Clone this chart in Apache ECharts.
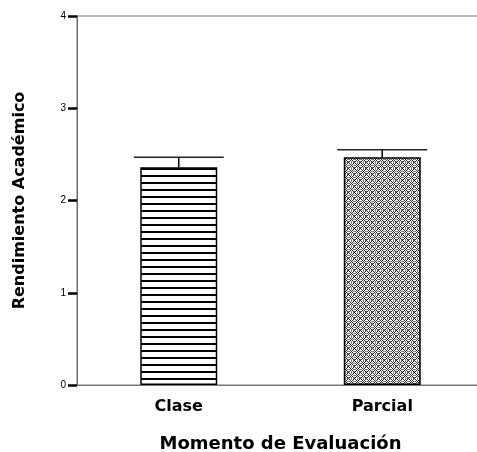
<!DOCTYPE html>
<html>
<head>
<meta charset="utf-8">
<script src="https://cdn.jsdelivr.net/npm/echarts@6/dist/echarts.min.js"></script>
<style>html,body{margin:0;padding:0;background:#fff;overflow:hidden}#c{width:477px;height:452px}</style>
</head>
<body>
<div id="c"></div>
<script>
var categories = ['Clase', 'Parcial'];
var meanValues = [2.36, 2.47];
var errorUpper = [2.47, 2.55];
var yTicks = [0, 1, 2, 3, 4];

function stripePattern() {
  var c = document.createElement('canvas');
  c.width = 8; c.height = 7;
  var g = c.getContext('2d');
  g.fillStyle = '#fff'; g.fillRect(0, 0, 8, 7);
  g.fillStyle = '#000'; g.fillRect(0, 0, 8, 2);
  return c;
}
function crossPattern() {
  var c = document.createElement('canvas');
  c.width = 6; c.height = 6;
  var g = c.getContext('2d');
  g.fillStyle = '#fff'; g.fillRect(0, 0, 6, 6);
  g.fillStyle = '#222';
  var px = [[0,0],[1,1],[2,2],[4,4],[5,5],[5,1],[4,2],[2,4],[1,5],[3,3]];
  px.forEach(function(p){ g.fillRect(p[0], p[1], 1, 1); });
  g.fillStyle = '#777';
  [[3,0],[0,3],[3,1],[1,3],[5,3],[3,5],[0,5],[5,0]].forEach(function(p){ g.fillRect(p[0], p[1], 1, 1); });
  return c;
}
var fills = [
  {image: stripePattern(), repeat: 'repeat'},
  {image: crossPattern(), repeat: 'repeat'}
];

var chart = echarts.init(document.getElementById('c'), null, {renderer: 'canvas'});
chart.setOption({
  animation: false,
  backgroundColor: '#fff',
  grid: {left: 77, top: 16, right: -7, bottom: 67, outerBoundsMode: 'none', show: true, borderColor: '#777', borderWidth: 1, containLabel: false},
  xAxis: {
    type: 'category',
    data: categories,
    name: 'Momento de Evaluación',
    nameLocation: 'middle',
    nameGap: 50,
    nameTextStyle: {fontFamily: 'DejaVu Sans', fontWeight: 'bold', fontSize: 18, color: '#000'},
    axisLine: {lineStyle: {color: '#777', width: 1}},
    axisTick: {alignWithLabel: true, length: 6, lineStyle: {color: '#000', width: 3}},
    axisLabel: {fontFamily: 'DejaVu Sans', fontWeight: 'bold', fontSize: 16, color: '#000', margin: 14}
  },
  yAxis: {
    type: 'value',
    min: yTicks[0], max: yTicks[yTicks.length - 1], interval: 1,
    name: 'Rendimiento Académico',
    nameLocation: 'middle',
    nameGap: 49,
    nameRotate: 90,
    nameTextStyle: {fontFamily: 'DejaVu Sans', fontWeight: 'bold', fontSize: 16, color: '#000'},
    axisLine: {show: true, lineStyle: {color: '#666', width: 1}},
    axisTick: {show: true, length: 9, lineStyle: {color: '#000', width: 2.5}},
    axisLabel: {fontFamily: 'Liberation Sans', fontSize: 10, color: '#000', margin: 11},
    splitLine: {show: false}
  },
  series: [
    {
      type: 'bar',
      barWidth: 77,
      data: meanValues.map(function(v, i){
        return {value: v, itemStyle: {color: fills[i], borderColor: '#000', borderWidth: 1.5}};
      })
    },
    {
      type: 'custom',
      data: categories.map(function(c, i){ return [i, meanValues[i], errorUpper[i]]; }),
      renderItem: function(params, api) {
        var x = api.value(0);
        var lo = api.coord([x, api.value(1)]);
        var hi = api.coord([x, api.value(2)]);
        var half = 45;
        return {
          type: 'group',
          children: [
            {type: 'line', shape: {x1: lo[0], y1: lo[1], x2: hi[0], y2: hi[1]}, style: {stroke: '#000', lineWidth: 1.5}},
            {type: 'line', shape: {x1: hi[0] - half, y1: hi[1], x2: hi[0] + half, y2: hi[1]}, style: {stroke: '#222', lineWidth: 1.5}}
          ]
        };
      },
      z: 3
    }
  ]
});
</script>
</body>
</html>
